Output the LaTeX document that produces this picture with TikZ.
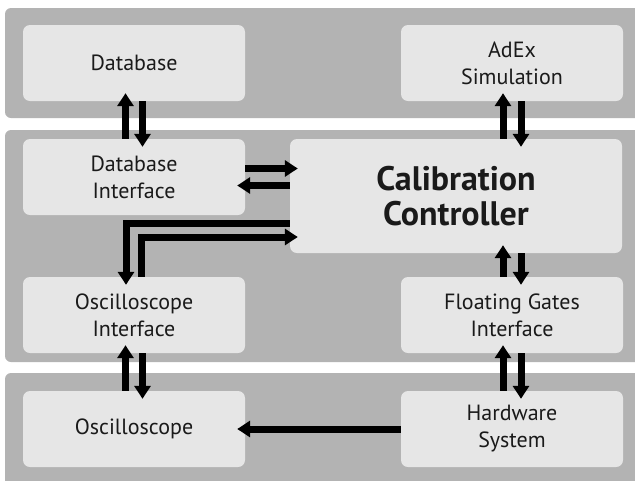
\documentclass[tikz,border=0pt]{standalone}
\usepackage{fontspec}
\setmainfont{PT Sans}
\usetikzlibrary{arrows.meta}
\definecolor{bandgray}{HTML}{B3B3B3}
\definecolor{boxgray}{HTML}{E6E6E6}
\definecolor{ink}{HTML}{1A1A1A}
\tikzset{
  band/.style={fill=bandgray, rounded corners=6pt},
  block/.style={fill=boxgray, rounded corners=7pt, minimum width=222pt, minimum height=76pt,
    align=center, text=ink, font=\fontsize{22}{27}\selectfont, inner sep=0pt},
  bigblock/.style={block, minimum width=332pt, minimum height=114pt, font=\fontsize{34}{35}\selectfont\bfseries},
  arr/.style={draw=black, line width=7pt, -{Triangle[width=16pt,length=13pt]}, shorten >=-8pt}
}
\begin{document}
\begin{tikzpicture}[x=1pt,y=-1pt]
\clip (0,0) rectangle (635,480);
\fill[white] (0,0) rectangle (635,480);
% bands
\fill[band] (5,8) rectangle (660,118);
\fill[band] (5,130) rectangle (660,362);
\fill[band] (5,373) rectangle (660,500);
% nodes
\node[block] (db) at (134,63) {Database};
\node[block] (adex) at (512,63) {AdEx\\Simulation};
\node[block] (dbi) at (134,177) {Database\\Interface};
\node[bigblock] (cc) at (456,196) {Calibration\\Controller};
\node[block] (osci) at (134,315) {Oscilloscope\\Interface};
\node[block] (fgi) at (512,315) {Floating Gates\\Interface};
\node[block] (osc) at (134,429) {Oscilloscope};
\node[block] (hw) at (512,429) {Hardware\\System};
% vertical arrow pairs
\draw[arr] ([xshift=-8.5pt]dbi.north) -- ([xshift=-8.5pt]db.south);
\draw[arr] ([xshift=8.5pt]db.south) -- ([xshift=8.5pt]dbi.north);
\draw[arr] ([xshift=-9pt]cc.north -| adex.south) -- ([xshift=-9pt]adex.south);
\draw[arr] ([xshift=9pt]adex.south) -- ([xshift=9pt]adex.south |- cc.north);
\draw[arr] ([xshift=-9pt]fgi.north) -- ([xshift=-9pt]fgi.north |- cc.south);
\draw[arr] ([xshift=9pt]fgi.north |- cc.south) -- ([xshift=9pt]fgi.north);
\draw[arr] ([xshift=-9pt]hw.north) -- ([xshift=-9pt]fgi.south);
\draw[arr] ([xshift=9pt]fgi.south) -- ([xshift=9pt]hw.north);
\draw[arr] ([xshift=-8.5pt]osc.north) -- ([xshift=-8.5pt]osci.south);
\draw[arr] ([xshift=8.5pt]osci.south) -- ([xshift=8.5pt]osc.north);
% horizontal arrows
\draw[arr] ([yshift=8.5pt]dbi.east) -- ([yshift=8.5pt]dbi.east -| cc.west);
\draw[arr] ([yshift=-8.5pt]dbi.east -| cc.west) -- ([yshift=-8.5pt]dbi.east);
\draw[arr] (hw.west) -- (osc.east);
% L-shaped arrows
\draw[arr] ([yshift=-27pt]cc.west) -| ([xshift=-8pt]osci.north);
\draw[arr] ([xshift=7pt]osci.north) |- ([yshift=-41pt]cc.west);
\end{tikzpicture}
\end{document}
